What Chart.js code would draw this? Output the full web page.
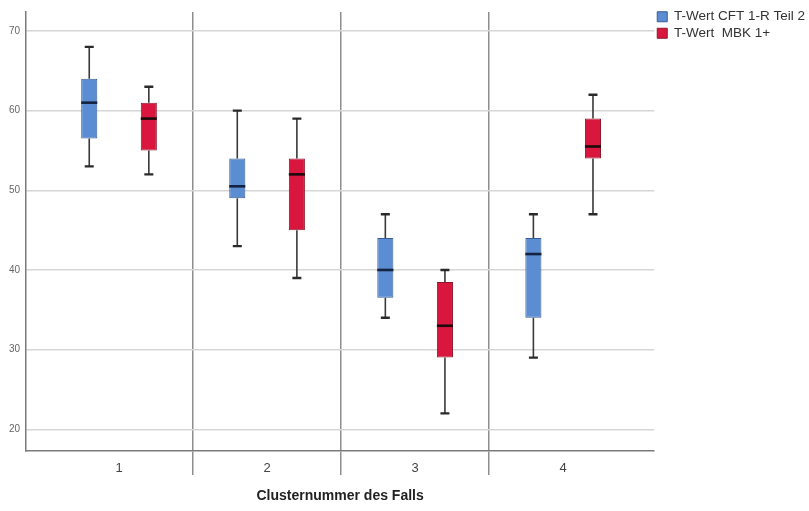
<!DOCTYPE html>
<html>
<head>
<meta charset="utf-8">
<script src="https://cdn.jsdelivr.net/npm/chart.js@4/dist/chart.umd.min.js"></script>
<style>
  html, body { margin: 0; padding: 0; background: #ffffff; }
  canvas { display: block; }
</style>
</head>
<body>
<canvas id="c" width="809" height="511"></canvas>
<script>
// ---- data ----
const categories = [1, 2, 3, 4];
const tickLabels = ['1', '2', '3', '4'];
const seriesNames = ['T-Wert CFT 1-R Teil 2', 'T-Wert  MBK 1+'];

const cftMin    = [53, 43, 34, 29];
const cftQ1     = [56.5, 49, 36.5, 34];
const cftMedian = [61, 50.5, 40, 42];
const cftQ3     = [64, 54, 44, 44];
const cftMax    = [68, 60, 47, 47];

const mbkMin    = [52, 39, 22, 47];
const mbkQ1     = [55, 45, 29, 54];
const mbkMedian = [59, 52, 33, 55.5];
const mbkQ3     = [61, 54, 38.5, 59];
const mbkMax    = [63, 59, 40, 62];

const yTicks = [20, 30, 40, 50, 60, 70];
const xTitle = 'Clusternummer des Falls';

function boxData(q1, q3) {
  return categories.map((c, i) => ({ x: c, y: [q1[i], q3[i]] }));
}

const boxWhiskers = {
  id: 'boxWhiskers',
  beforeDatasetsDraw(chart) {
    const ctx = chart.ctx;
    const ys = chart.scales.y;
    chart.data.datasets.forEach((ds, di) => {
      const meta = chart.getDatasetMeta(di);
      meta.data.forEach((bar, i) => {
        const p = bar.getProps(['x', 'width'], true);
        const yMin = ys.getPixelForValue(ds.whiskerMin[i]);
        const yMax = ys.getPixelForValue(ds.whiskerMax[i]);
        const yQ1 = ys.getPixelForValue(ds.q1[i]);
        const yQ3 = ys.getPixelForValue(ds.q3[i]);
        ctx.save();
        ctx.strokeStyle = '#3a3a3a';
        ctx.lineWidth = 1.6;
        ctx.beginPath();
        ctx.moveTo(p.x, yMax); ctx.lineTo(p.x, yQ3);
        ctx.moveTo(p.x, yQ1); ctx.lineTo(p.x, yMin);
        ctx.stroke();
        ctx.lineWidth = 2.4;
        ctx.strokeStyle = '#2a2a2a';
        ctx.beginPath();
        ctx.moveTo(p.x - 4.5, yMax); ctx.lineTo(p.x + 4.5, yMax);
        ctx.moveTo(p.x - 4.5, yMin); ctx.lineTo(p.x + 4.5, yMin);
        ctx.stroke();
        ctx.restore();
      });
    });
  },
  afterDatasetsDraw(chart) {
    const ctx = chart.ctx;
    const ys = chart.scales.y;
    chart.data.datasets.forEach((ds, di) => {
      const meta = chart.getDatasetMeta(di);
      meta.data.forEach((bar, i) => {
        const p = bar.getProps(['x', 'width'], true);
        const yMed = ys.getPixelForValue(ds.median[i]);
        ctx.save();
        ctx.strokeStyle = ds.medianColor;
        ctx.lineWidth = 2.6;
        ctx.beginPath();
        ctx.moveTo(p.x - p.width / 2, yMed);
        ctx.lineTo(p.x + p.width / 2, yMed);
        ctx.stroke();
        ctx.restore();
      });
    });
  }
};

new Chart(document.getElementById('c'), {
  type: 'bar',
  data: {
    datasets: [
      {
        label: seriesNames[0],
        data: boxData(cftQ1, cftQ3),
        q1: cftQ1, q3: cftQ3, median: cftMedian, whiskerMin: cftMin, whiskerMax: cftMax,
        medianColor: '#14233f',
        backgroundColor: '#5b8dd3',
        borderColor: '#3a5d93',
        borderWidth: 1,
        borderSkipped: false
      },
      {
        label: seriesNames[1],
        data: boxData(mbkQ1, mbkQ3),
        q1: mbkQ1, q3: mbkQ3, median: mbkMedian, whiskerMin: mbkMin, whiskerMax: mbkMax,
        medianColor: '#1c0a0c',
        backgroundColor: '#d8163e',
        borderColor: '#8c1b2c',
        borderWidth: 1,
        borderSkipped: false
      }
    ]
  },
  options: {
    responsive: false,
    animation: false,
    devicePixelRatio: 1,
    categoryPercentage: 0.805,
    barPercentage: 0.27,
    layout: { padding: { top: 7, left: 0, right: -6, bottom: 0 } },
    plugins: {
      legend: {
        position: 'right',
        align: 'start',
        labels: {
          boxWidth: 10,
          boxHeight: 10,
          padding: 3,
          color: '#333333',
          font: { family: 'Liberation Sans', size: 13.5 }
        }
      },
      tooltip: { enabled: false }
    },
    scales: {
      x: {
        type: 'linear',
        offset: false,
        min: 0.3716,
        max: 4.615,
        afterBuildTicks(scale) { scale.ticks = categories.map(v => ({ value: v })); },
        afterFit(scale) { scale.height = 60; },
        grid: {
          offset: true,
          drawOnChartArea: true,
          drawTicks: true,
          tickLength: 24,
          lineWidth: 1.5,
          color: (c) => (c.index >= 1 && c.index <= 3) ? '#8e8e8e' : 'rgba(0,0,0,0)'
        },
        border: { display: true, color: '#7a7a7a', width: 1.5 },
        ticks: {
          padding: -14,
          color: '#444444',
          font: { family: 'Liberation Sans', size: 13 },
          callback: (v, i) => tickLabels[i]
        },
        title: {
          display: true,
          text: xTitle,
          color: '#222222',
          font: { family: 'Liberation Sans', size: 14, weight: 'bold' },
          padding: { top: 4, bottom: 6 }
        }
      },
      y: {
        min: 17.28,
        max: 72.38,
        afterBuildTicks(scale) { scale.ticks = yTicks.map(v => ({ value: v })); },
        afterFit(scale) { scale.width = 26; },
        grid: { color: '#d6d6d6', lineWidth: 1.5, drawTicks: false },
        border: { display: true, color: '#7a7a7a', width: 1.5 },
        ticks: {
          padding: 6,
          color: '#666666',
          font: { family: 'Liberation Sans', size: 10 }
        }
      }
    }
  },
  plugins: [boxWhiskers]
});
</script>
</body>
</html>
